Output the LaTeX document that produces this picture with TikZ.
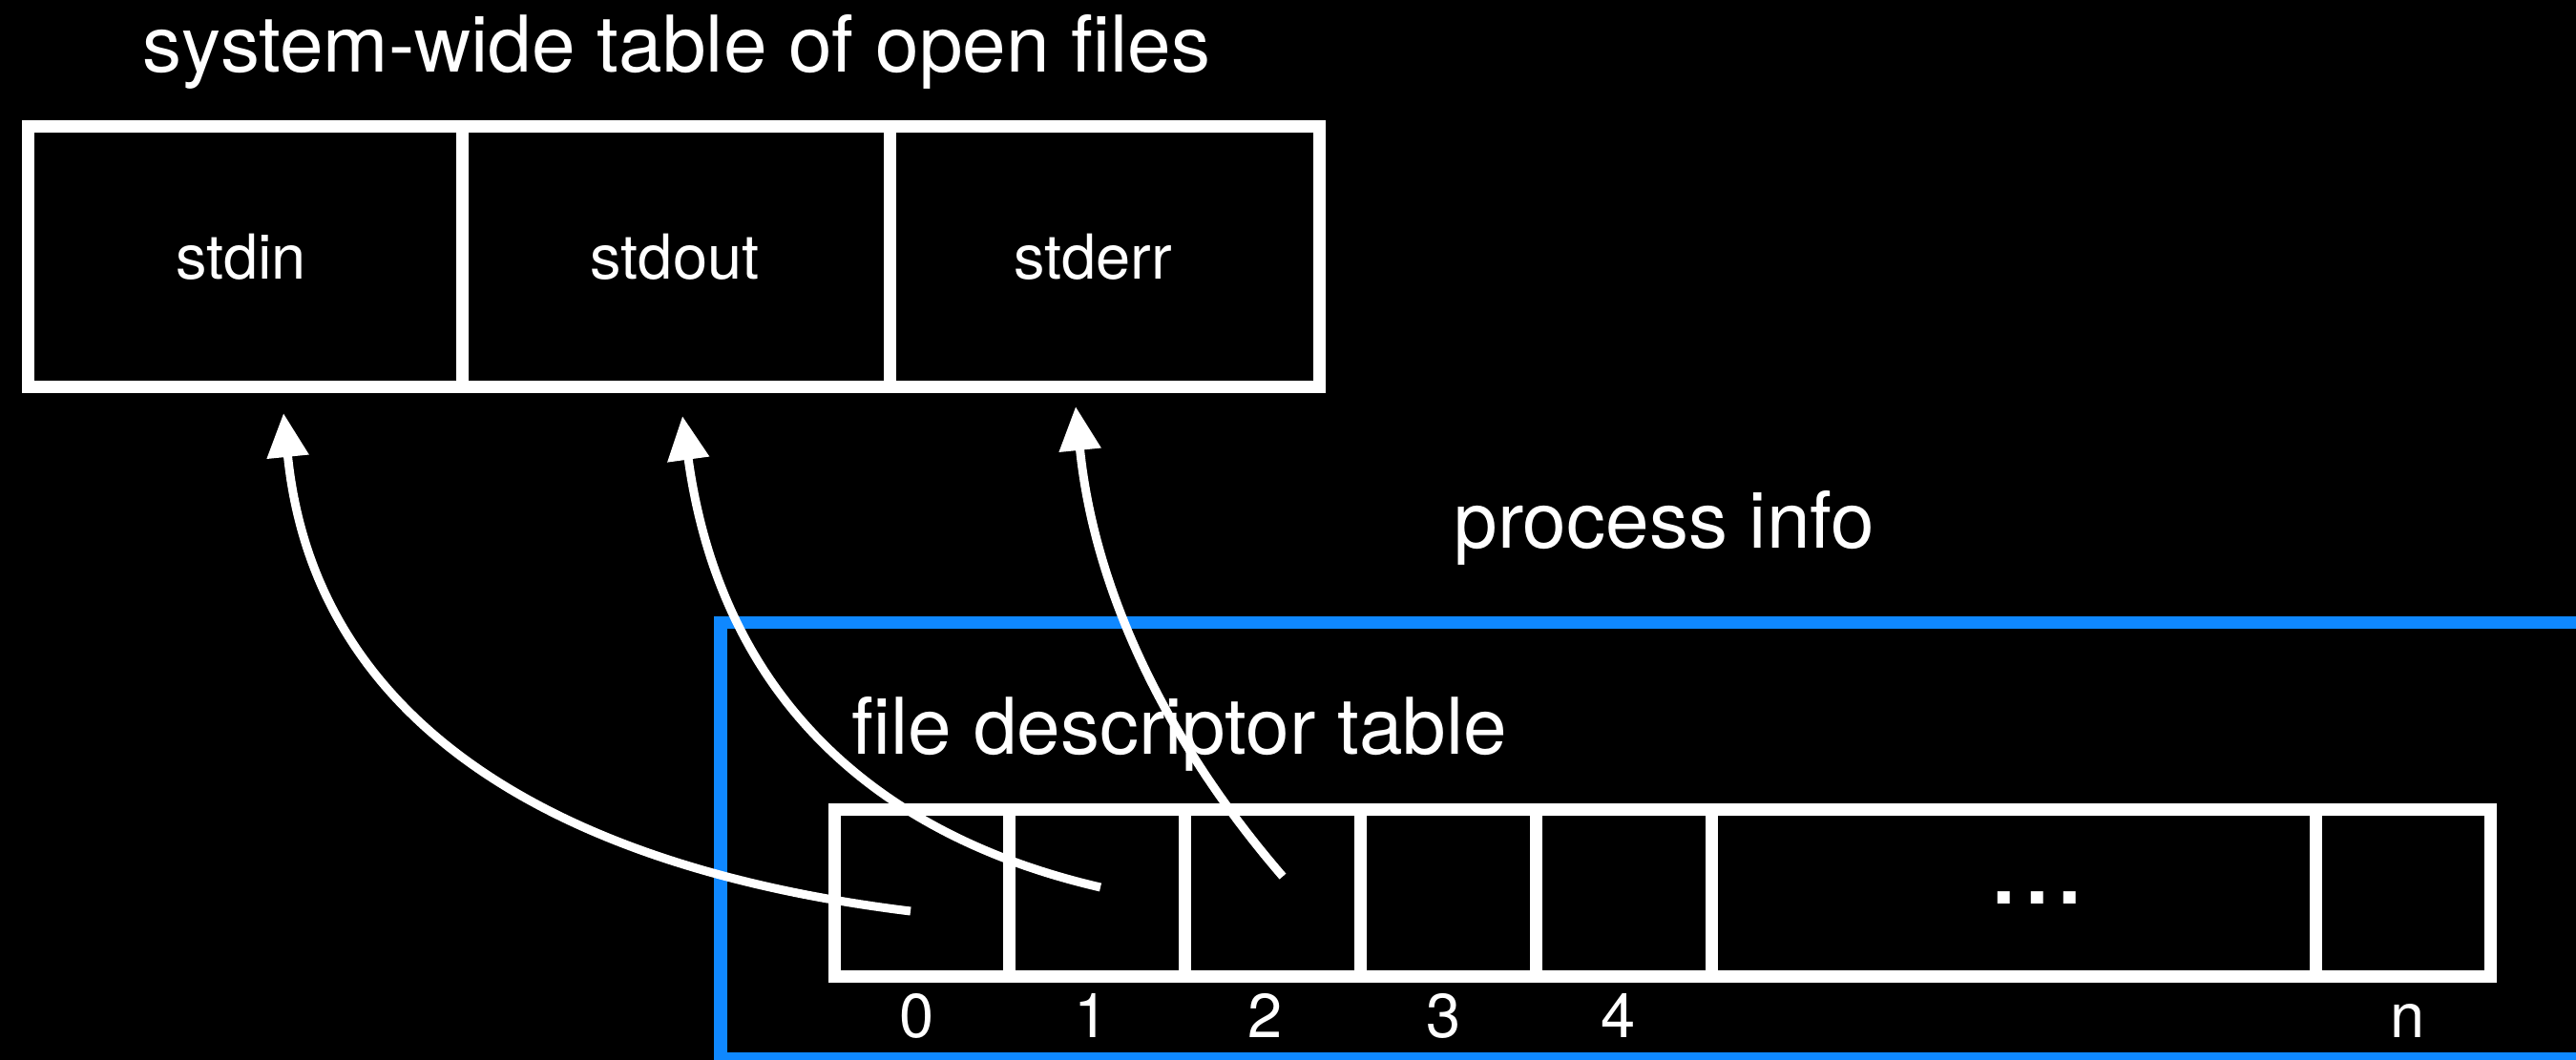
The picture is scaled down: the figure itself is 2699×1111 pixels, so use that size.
\documentclass[tikz,border=0pt]{standalone}
\usepackage{fontspec}
\setmainfont{TeX Gyre Heros}
\usetikzlibrary{arrows.meta}
\definecolor{procblue}{RGB}{15,136,255}
\begin{document}
\begin{tikzpicture}[x=0.5pt,y=-0.5pt,
  topcell/.style={draw=white, line width=6.5pt, minimum height=136.5pt, inner sep=0pt, outer sep=0pt},
  celltext/.style={text=white, inner sep=0pt, font=\fontsize{32.5}{39}\selectfont},
  fdcell/.style={draw=white, line width=6.5pt, minimum height=87.25pt, inner sep=0pt, outer sep=0pt},
  biglabel/.style={text=white, inner sep=0pt, anchor=base west, font=\fontsize{41}{49}\selectfont},
  idx/.style={text=white, inner sep=0pt, anchor=base, font=\fontsize{32.5}{39}\selectfont},
  link/.style={draw=white, line width=4.5pt, -{Triangle[length=23pt,width=21pt]}}
]
\fill[black] (0,0) rectangle (2699,1111);
\useasboundingbox (0,0) rectangle (2699,1111);
\clip (0,0) rectangle (2699,1111);

% process info frame (runs off the right and bottom edges)
\draw[procblue, line width=6.75pt] (755,652.5) rectangle (2800,1109.5);

% labels
\node[biglabel] (title) at (149.5,76) {system-wide table of open files};
\node[biglabel] (proc) at (1523,575) {process info};
\node[biglabel] (fdt) at (892,791) {file descriptor table};

% system-wide table
\node[topcell, minimum width=227.5pt] (fin) at (256.5,269.5) {};
\node[topcell, minimum width=224pt] (fout) at (708,269.5) {};
\node[topcell, minimum width=225pt] (ferr) at (1157,269.5) {};
\node[celltext] (tin) at (252.5,269.5) {stdin};
\node[celltext] (tout) at (707,269.5) {stdout};
\node[celltext] (terr) at (1145,269.5) {stderr};

% file descriptor table
\node[fdcell, minimum width=91.25pt] (c0) at (965.75,936.25) {};
\node[fdcell, minimum width=92pt] (c1) at (1149,936.25) {};
\node[fdcell, minimum width=92.25pt] (c2) at (1333.25,936.25) {};
\node[fdcell, minimum width=91.75pt] (c3) at (1517.25,936.25) {};
\node[fdcell, minimum width=92pt] (c4) at (1701,936.25) {};
\node[fdcell, minimum width=316.5pt] (cdots) at (2109.5,936.25) {};
\node[fdcell, minimum width=91.5pt] (cn) at (2517.5,936.25) {};
\node[text=white, inner sep=0pt, anchor=base, font=\fontsize{62}{70}\selectfont] (dots) at (2134.5,947) {...};

% indices
\node[idx] (i0) at (960.5,1087) {0};
\node[idx] (i1) at (1143.5,1087) {1};
\node[idx] (i2) at (1326,1087) {2};
\node[idx] (i3) at (1513,1087) {3};
\node[idx] (i4) at (1696,1087) {4};
\node[idx] (inn) at (2523,1087) {n};

% connector end points
\coordinate (s0) at (954,955);
\coordinate (e0) at (297,433);
\coordinate (s1) at (1153,930);
\coordinate (e1) at (715,436);
\coordinate (s2) at (1344,918.6);
\coordinate (e2) at (1127,426);

\draw[link] (s0) .. controls (587,910) and (330,761) .. (e0);
\draw[link] (s1) .. controls (900,871.5) and (753,714) .. (e1);
\draw[link] (s2) .. controls (1226.5,782.6) and (1147,624) .. (e2);
\end{tikzpicture}
\end{document}
